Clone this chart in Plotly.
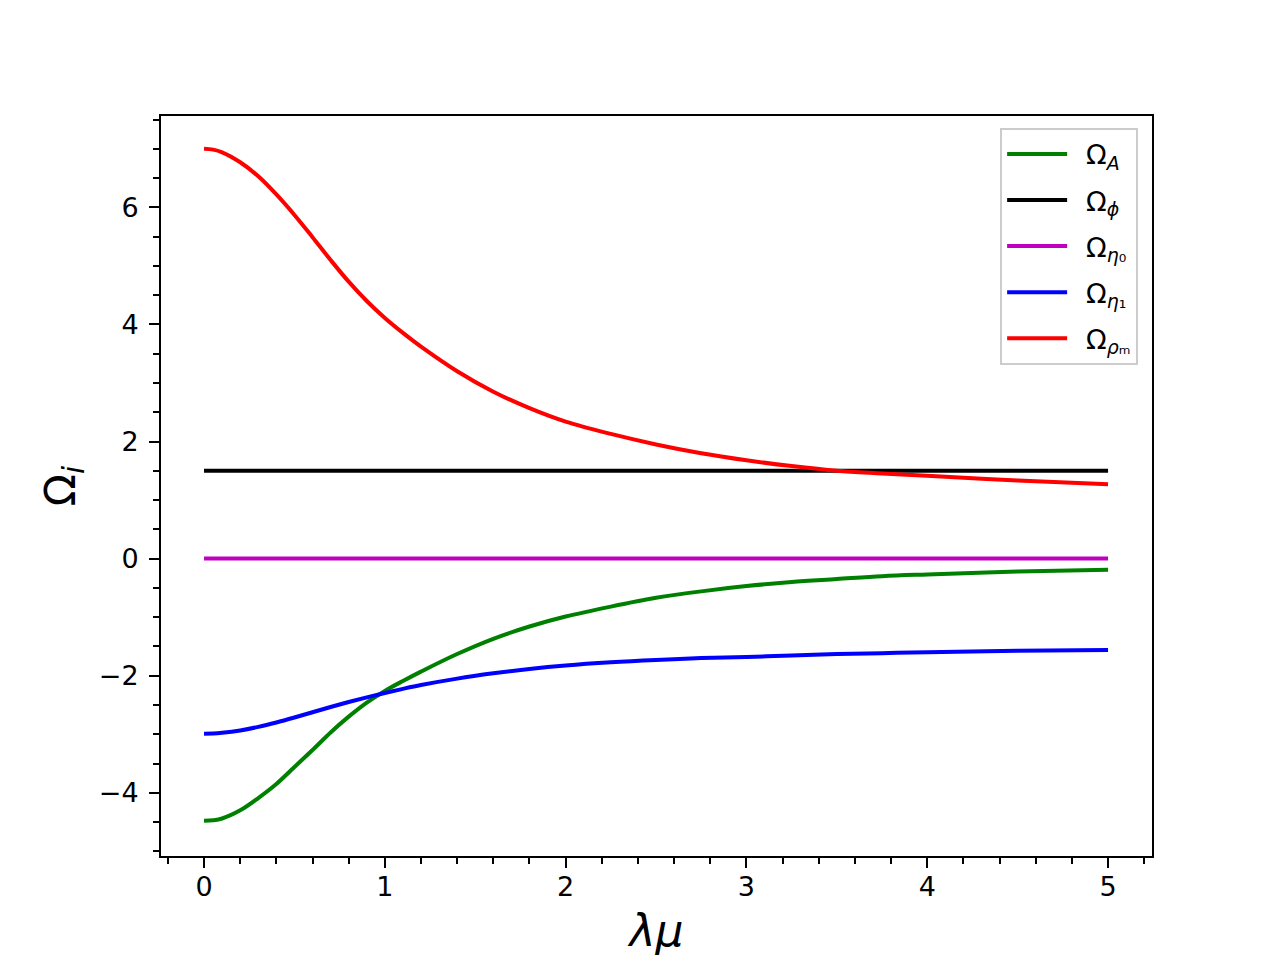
import plotly.graph_objects as go

# valores
lam_mu = [0, 0.05, 0.1, 0.2, 0.3, 0.4, 0.5, 0.6, 0.7, 0.8, 0.9, 1.0, 1.1, 1.2, 1.4,
          1.6, 1.8, 2.0, 2.25, 2.5, 2.75, 3.0, 3.25, 3.5, 3.75, 4.0, 4.5, 5.0]

omega_A = [-4.48, -4.47, -4.44, -4.30, -4.09, -3.85, -3.56, -3.27, -2.97, -2.70, -2.46, -2.26,
           -2.09, -1.93, -1.63, -1.37, -1.16, -0.99, -0.82, -0.67, -0.56, -0.47, -0.40,
           -0.35, -0.30, -0.27, -0.22, -0.19]
omega_phi = [1.5] * len(lam_mu)
omega_eta0 = [0.0] * len(lam_mu)
omega_eta1 = [-2.99, -2.987, -2.975, -2.935, -2.875, -2.80, -2.715, -2.625, -2.535, -2.45, -2.37,
              -2.295, -2.225, -2.16, -2.05, -1.96, -1.885, -1.825, -1.77, -1.73, -1.70, -1.68,
              -1.655, -1.63, -1.615, -1.60, -1.575, -1.56]
omega_rho = [7.00, 6.985, 6.94, 6.77, 6.53, 6.22, 5.87, 5.49, 5.10, 4.73, 4.40, 4.11,
             3.855, 3.62, 3.20, 2.85, 2.57, 2.34, 2.13, 1.95, 1.80, 1.68, 1.58,
             1.50, 1.455, 1.415, 1.335, 1.27]

series = [
    ("Ω<sub><i>A</i></sub>", omega_A, "#008000"),
    ("Ω<sub><i>ϕ</i></sub>", omega_phi, "#000000"),
    ("Ω<sub><i>η</i>₀</sub>", omega_eta0, "#bf00bf"),
    ("Ω<sub><i>η</i>₁</sub>", omega_eta1, "#0000ff"),
    ("Ω<sub><i>ρ</i>ₘ</sub>", omega_rho, "#ff0000"),
]

fig = go.Figure()
for i, (name, yy, col) in enumerate(series):
    fig.add_trace(go.Scatter(x=lam_mu, y=yy, mode="lines", name="\u00a0\u2009" + name,
                             line=dict(color=col, width=4, shape="spline", smoothing=1.0),
                             legendgroup=str(i)))

font = "DejaVu Sans, Arial, sans-serif"
axis_common = dict(showline=True, linecolor="black", linewidth=2, mirror=True,
                   showgrid=False, zeroline=False, ticks="outside", ticklen=10,
                   tickwidth=2, tickcolor="black",
                   tickfont=dict(family=font, size=27, color="black"))

fig.update_layout(
    width=1280, height=960,
    paper_bgcolor="white", plot_bgcolor="white",
    # la página pone ~7px de margen, se compensa aquí
    margin=dict(l=153, r=136, t=108, b=112),
    font=dict(family=font, color="black"),
    xaxis=dict(range=[-0.238, 5.243], tickmode="linear", tick0=0, dtick=1,
               minor=dict(ticks="outside", dtick=0.2, ticklen=6, tickwidth=1.5, tickcolor="black"),
               ticklabelstandoff=-4,
               title=dict(text="<i>λμ</i>", font=dict(family=font, size=44), standoff=14),
               **axis_common),
    yaxis=dict(range=[-5.08, 7.56], tickmode="linear", tick0=0, dtick=2,
               minor=dict(ticks="outside", dtick=0.5, ticklen=6, tickwidth=1.5, tickcolor="black"),
               ticklabelstandoff=5,
               title=dict(text="Ω<sub><i>i</i></sub>", font=dict(family=font, size=42), standoff=10),
               **axis_common),
    legend=dict(x=0.986, y=0.984, xanchor="right", yanchor="top",
                bgcolor="rgba(255,255,255,0.8)", bordercolor="#cccccc", borderwidth=2,
                font=dict(family=font, size=27), tracegroupgap=8, itemwidth=60),
    showlegend=True,
)

fig.write_html("out.html")
